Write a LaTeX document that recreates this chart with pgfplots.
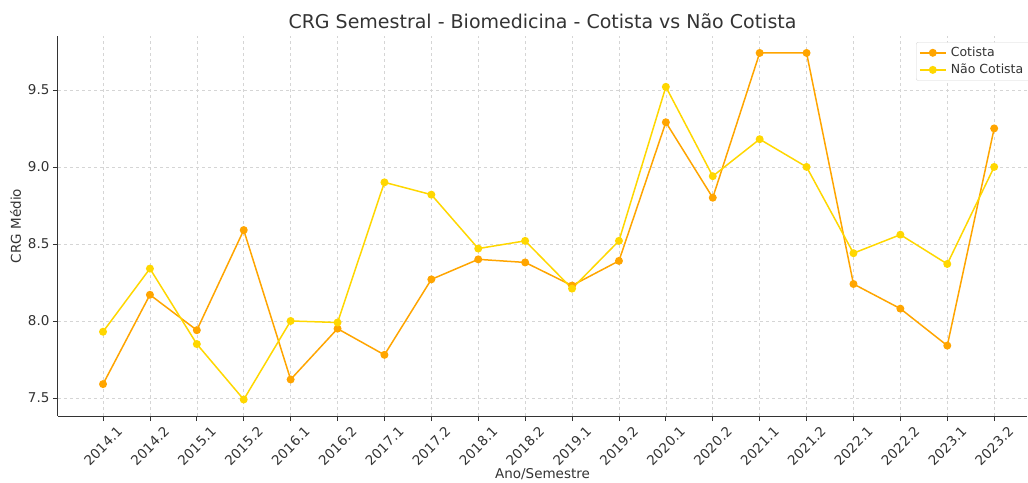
\documentclass[border=0pt]{standalone}
\usepackage{fontspec}
\setmainfont{DejaVu Sans}
\usepackage{pgfplots}
\pgfplotsset{compat=1.18}
\definecolor{cot}{HTML}{FFA500}
\definecolor{ncot}{HTML}{FFD700}
\definecolor{txt}{HTML}{333333}
\definecolor{gridc}{HTML}{D5D5D5}
\pgfplotstableread{
x y
0 7.59
1 8.17
2 7.94
3 8.59
4 7.62
5 7.95
6 7.78
7 8.27
8 8.40
9 8.38
10 8.23
11 8.39
12 9.29
13 8.80
14 9.74
15 9.74
16 8.24
17 8.08
18 7.84
19 9.25
}\cotista
\pgfplotstableread{
x y
0 7.93
1 8.34
2 7.85
3 7.49
4 8.00
5 7.99
6 8.90
7 8.82
8 8.47
9 8.52
10 8.21
11 8.52
12 9.52
13 8.94
14 9.18
15 9.00
16 8.44
17 8.56
18 8.37
19 9.00
}\naocotista
\begin{document}
\begin{tikzpicture}
\begin{axis}[
  name=ax,
  scale only axis,
  width=969pt, height=380pt,
  xmin=-0.96, xmax=19.7,
  ymin=7.383, ymax=9.85,
  axis x line*=bottom, axis y line*=left,
  axis line style={txt, line width=1pt},
  tick align=outside,
  major tick length=5pt,
  tick style={txt, line width=0.8pt},
  xtick={0,...,19},
  xticklabels={2014.1,2014.2,2015.1,2015.2,2016.1,2016.2,2017.1,2017.2,2018.1,2018.2,2019.1,2019.2,2020.1,2020.2,2021.1,2021.2,2022.1,2022.2,2023.1,2023.2},
  ytick={7.5,8.0,8.5,9.0,9.5},
  yticklabels={7.5,8.0,8.5,9.0,9.5},
  /pgf/number format/assume math mode=true,
  ticklabel style={font=\fontsize{13.5}{15}\selectfont, text=txt},
  xticklabel style={yshift=-25pt, rotate=45, anchor=center},
  grid=major,
  grid style={gridc, dashed, line width=0.6pt},
  title={CRG Semestral - Biomedicina - Cotista vs Não Cotista},
  title style={font=\fontsize{19}{22}\selectfont, text=txt, yshift=-2pt},
  xlabel={Ano/Semestre},
  ylabel={CRG Médio},
  label style={font=\fontsize{13.5}{15}\selectfont, text=txt},
  xlabel style={at={(axis description cs:0.5,0)}, anchor=center, yshift=-58pt},
  legend style={at={(rel axis cs:1,0.984)}, anchor=north east, xshift=4pt,
    font=\fontsize{12.5}{14}\selectfont, text=txt, draw=gridc, rounded corners=2pt,
    row sep=2pt, inner sep=3pt, nodes={inner xsep=4.5pt}},
  legend image code/.code={
    \draw[#1, mark repeat=2, mark phase=2] plot coordinates {(0cm,0cm) (0.45cm,0cm) (0.9cm,0cm)};},
  legend cell align=left,
]
\addplot[cot, line width=1.5pt, mark=*, mark size=3.2pt, mark options={fill=cot, draw=cot}] table[x=x,y=y] {\cotista};
\addlegendentry{Cotista}
\addplot[ncot, line width=1.5pt, mark=*, mark size=3.2pt, mark options={fill=ncot, draw=ncot}] table[x=x,y=y] {\naocotista};
\addlegendentry{Não Cotista}
\end{axis}
\pgfresetboundingbox
\path (ax.south west) ++(-58pt,-66pt) rectangle ++(1028pt,482pt);
\end{tikzpicture}
\end{document}
